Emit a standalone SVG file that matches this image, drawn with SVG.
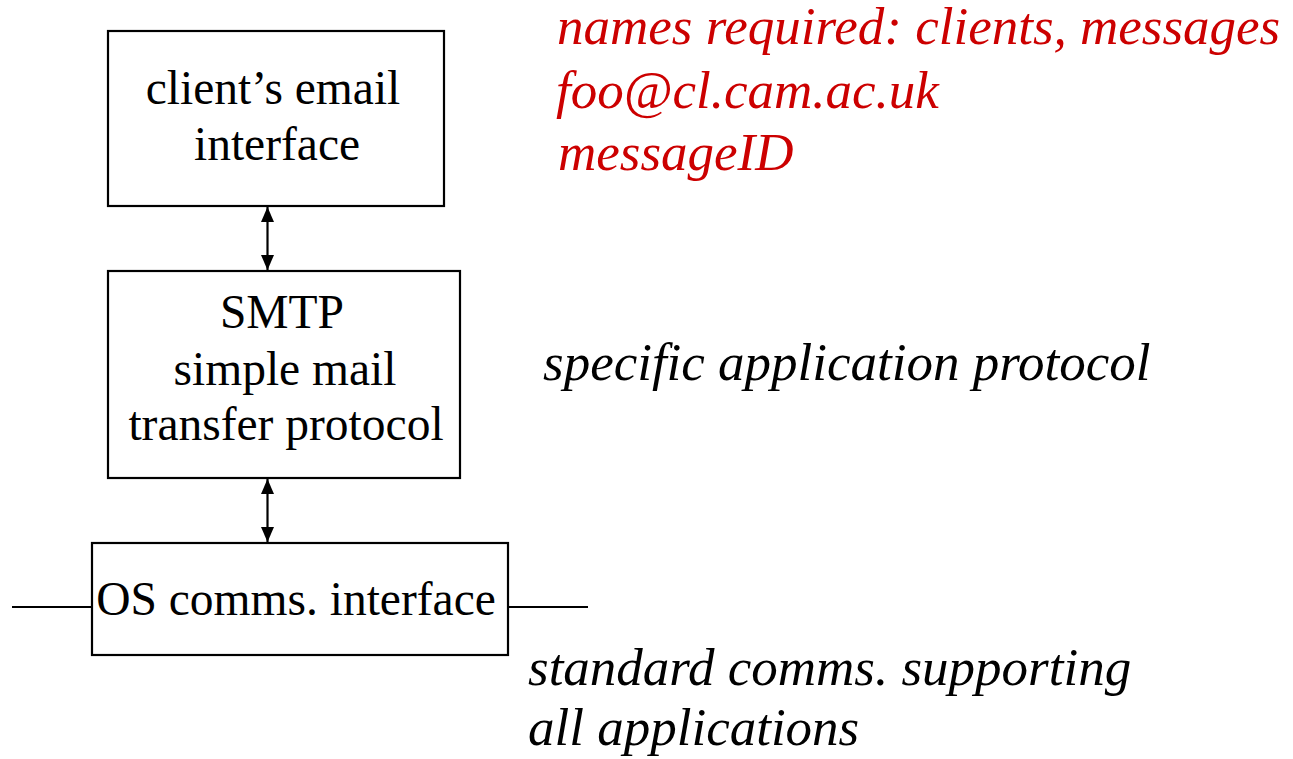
<svg xmlns="http://www.w3.org/2000/svg" width="1293" height="759" viewBox="0 0 1293 759">
  <style>
    .box { fill: #ffffff; stroke: #000000; stroke-width: 2.2; }
    .wire { stroke: #000000; stroke-width: 2.2; fill: none; }
    text { font-family: 'Liberation Serif', 'Times New Roman', serif; }
    .label { font-size: 47.5px; fill: #000000; text-anchor: middle; }
    .note { font-size: 53px; font-style: italic; fill: #000000; }
    .red { fill: #cc0000; }
  </style>
  <defs>
    <!-- solid triangular head used at both ends of the layer links -->
    <marker id="head" viewBox="0 0 15 13" refX="15" refY="6.5" markerWidth="15" markerHeight="13" markerUnits="userSpaceOnUse" orient="auto-start-reverse">
      <path d="M0,0 L15,6.5 L0,13 Z" fill="#000000"/>
    </marker>
  </defs>

  <rect width="1293" height="759" fill="#ffffff"/>

  <!-- links between the layers and the network line -->
  <g id="connectors">
    <line class="wire" x1="267.5" y1="207" x2="267.5" y2="270" marker-start="url(#head)" marker-end="url(#head)"/>
    <line class="wire" x1="267.5" y1="479" x2="267.5" y2="542" marker-start="url(#head)" marker-end="url(#head)"/>
    <line class="wire" x1="12" y1="607" x2="92" y2="607"/>
    <line class="wire" x1="508" y1="607" x2="588" y2="607"/>
  </g>

  <g id="client-interface">
    <rect class="box" x="108" y="31" width="336" height="175"/>
    <text class="label" x="273" y="104">client’s email</text>
    <text class="label" x="277" y="160">interface</text>
  </g>

  <g id="smtp">
    <rect class="box" x="108" y="271" width="352" height="207"/>
    <text class="label" x="282" y="328">SMTP</text>
    <text class="label" x="285" y="385">simple mail</text>
    <text class="label" x="286" y="440">transfer protocol</text>
  </g>

  <g id="os-comms">
    <rect class="box" x="92" y="543" width="416" height="112"/>
    <text class="label" x="296" y="615">OS comms. interface</text>
  </g>

  <g id="notes">
    <text class="note red" x="557" y="44">names required: clients, messages</text>
    <text class="note red" x="556" y="108">foo@cl.cam.ac.uk</text>
    <text class="note red" x="558" y="170">messageID</text>
    <text class="note" x="543" y="380">specific application protocol</text>
    <text class="note" x="528" y="685">standard comms. supporting</text>
    <text class="note" x="528" y="745">all applications</text>
  </g>
</svg>
